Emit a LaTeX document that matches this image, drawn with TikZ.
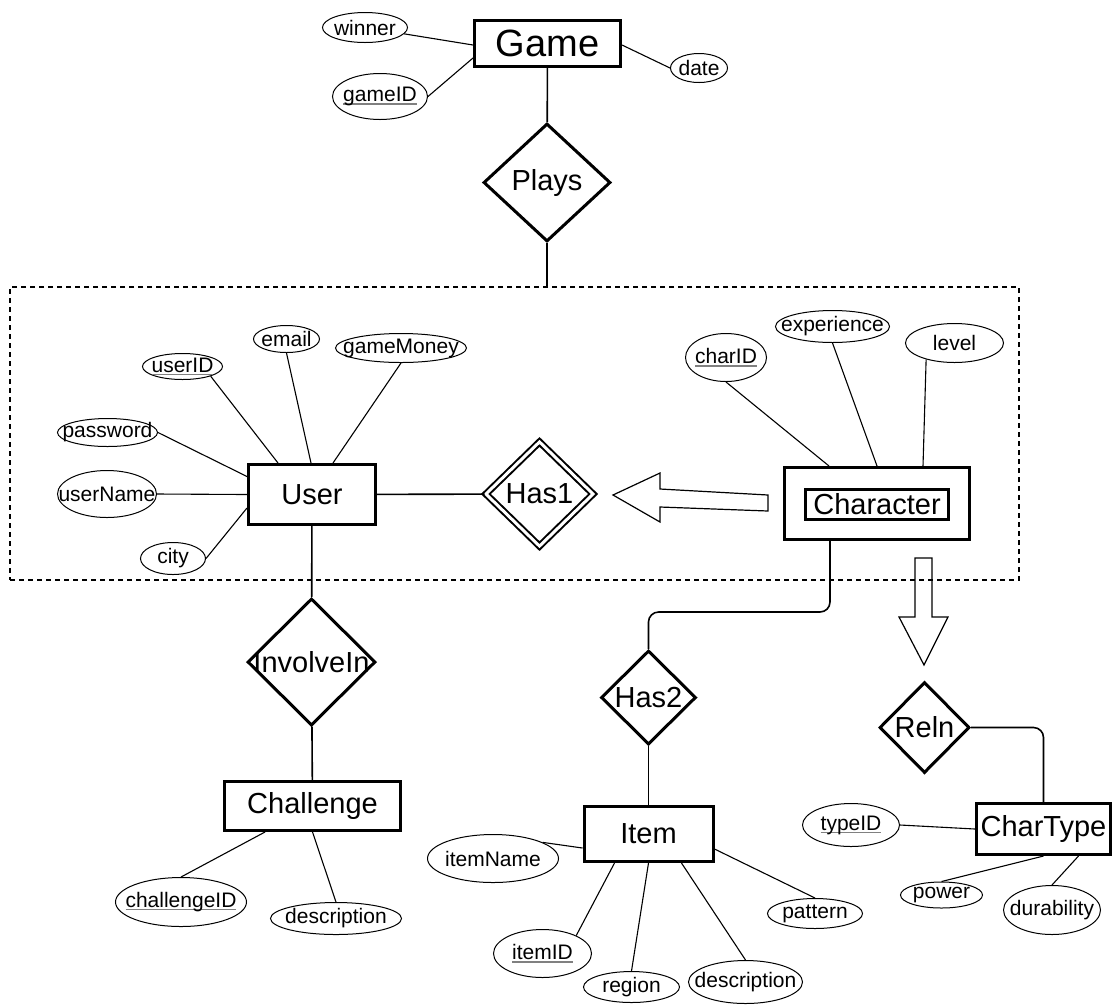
\documentclass[tikz,border=0pt]{standalone}
\usepackage{fontspec}
\setmainfont{Liberation Sans}
\usetikzlibrary{shapes.geometric,calc}
\newcommand{\keyattr}[1]{\setbox0\hbox{#1}\rlap{\color{gray}\rule[-3pt]{\wd0}{1.4pt}}\box0}
\begin{document}
\begin{tikzpicture}[x=1pt,y=-1pt,
 entity/.style={draw, rectangle, line width=3pt, inner sep=0pt, font=\fontsize{29}{33}\selectfont},
 rel/.style={draw, diamond, line width=3pt, inner sep=0pt},
 reltxt/.style={font=\fontsize{29}{33}\selectfont, inner sep=0pt},
 attr/.style={draw, ellipse, line width=1pt, inner sep=0pt},
 atxt/.style={font=\fontsize{21}{25}\selectfont, inner sep=0pt},
 conn/.style={line width=1.6pt},
 aconn/.style={line width=1.1pt},
 fat/.style={draw, line width=1.2pt, line join=miter}]
\useasboundingbox (0,0) rectangle (1113,1005);

% aggregation box
\node[draw, dashed, dash pattern=on 5pt off 4pt, line width=1.2pt, minimum width=1009, minimum height=293, inner sep=0pt] (agg) at (514.5,433.5) {};

% entities
\node[entity, font=\fontsize{38}{44}\selectfont, minimum width=146, minimum height=46] (game) at (547.5,43.5) {Game};
\node[entity, minimum width=127, minimum height=60] (user) at (312,494.5) {User};
\node[entity, minimum width=185, minimum height=72] (char) at (877,503.5) {};
\node[entity, minimum width=143, minimum height=30] (charin) at (877,504.5) {Character};
\node[entity, minimum width=176, minimum height=49] (chal) at (312.5,806) {Challenge};
\node[entity, minimum width=129, minimum height=55] (item) at (648.5,834) {Item};
\node[entity, minimum width=134, minimum height=51] (ct) at (1043.5,829) {CharType};

% relationships
\node[rel, minimum width=127, minimum height=118, label={[reltxt]center:Plays}] (plays) at (547,182.5) {};
\node[draw, diamond, inner sep=0pt, line width=2pt, double, double distance=3pt, minimum width=108, minimum height=105, label={[reltxt]center:Has1}] (has1) at (539.5,494) {};
\node[rel, minimum width=128, minimum height=127, label={[reltxt]center:InvolveIn}] (involve) at (311.5,662) {};
\node[rel, minimum width=95, minimum height=94, label={[reltxt]center:Has2}] (has2) at (648.5,697.5) {};
\node[rel, minimum width=90, minimum height=91, label={[reltxt]center:Reln}] (reln) at (924.5,727.5) {};

% attributes
\node[attr, minimum width=85, minimum height=30, label={[atxt]center:winner}] (winner) at (365,27.5) {};
\node[attr, minimum width=95, minimum height=46, label={[atxt]center:\keyattr{gameID}}] (gameid) at (380,96.5) {};
\node[attr, minimum width=57, minimum height=29, label={[atxt]center:date}] (date) at (699,68) {};
\node[attr, minimum width=80, minimum height=26, label={[atxt]center:\keyattr{userID}}] (userid) at (182.5,366.5) {};
\node[attr, minimum width=66, minimum height=27, label={[atxt]center:email}] (email) at (286.5,339) {};
\node[attr, minimum width=131, minimum height=29, label={[atxt]center:gameMoney}] (gamemoney) at (401,348) {};
\node[attr, minimum width=100, minimum height=28, label={[atxt]center:password}] (password) at (107.5,432.5) {};
\node[attr, minimum width=99, minimum height=47, label={[atxt]center:userName}] (username) at (107,494) {};
\node[attr, minimum width=65, minimum height=32, label={[atxt]center:city}] (city) at (173,558.5) {};
\node[attr, minimum width=81, minimum height=48, label={[atxt]center:\keyattr{charID}}] (charid) at (726,357.5) {};
\node[attr, minimum width=114, minimum height=32, label={[atxt]center:experience}] (exper) at (832.5,326.5) {};
\node[attr, minimum width=98, minimum height=39, label={[atxt]center:level}] (level) at (954.5,343) {};
\node[attr, minimum width=131, minimum height=49, label={[atxt]center:\keyattr{challengeID}}] (chalid) at (181,902) {};
\node[attr, minimum width=131, minimum height=32, label={[atxt]center:description}] (desc1) at (336,918.5) {};
\node[attr, minimum width=131, minimum height=48, label={[atxt]center:itemName}] (itemname) at (493,858.5) {};
\node[attr, minimum width=98, minimum height=48, label={[atxt]center:\keyattr{itemID}}] (itemid) at (542.5,953.5) {};
\node[attr, minimum width=96, minimum height=31, label={[atxt]center:region}] (region) at (631.5,987) {};
\node[attr, minimum width=114, minimum height=43, label={[atxt]center:description}] (desc2) at (745.5,982) {};
\node[attr, minimum width=95, minimum height=30, label={[atxt]center:pattern}] (pattern) at (815,913.5) {};
\node[attr, minimum width=97, minimum height=43, label={[atxt]center:\keyattr{typeID}}] (typeid) at (851,825) {};
\node[attr, minimum width=82, minimum height=26, label={[atxt]center:power}] (power) at (941.5,895) {};
\node[attr, minimum width=97, minimum height=49, label={[atxt]center:durability}] (durab) at (1052,910) {};

% Game connectors
\draw[aconn] (winner) -- ($(game.west)+(0,1.5)$);
\draw[aconn] (gameid.east) -- ($(game.west)+(0,14.5)$);
\draw[aconn] (date.west) -- ($(game.east)+(0,1.5)$);
\draw[conn] (game) -- (plays);
\draw[conn] (plays) -- (plays.south |- agg.north);

% User connectors
\draw[aconn] (userid.341) -- ($(user.north west)+(31,0)$);
\draw[aconn] (email.south) -- ($(user.north)+(-1,0)$);
\draw[aconn] (gamemoney.south) -- ($(user.north)+(21,0)$);
\draw[aconn] (password.east) -- ($(user.west)+(0,-18)$);
\draw[aconn] (username.east) -- (user.west);
\draw[aconn] (city.east) -- ($(user.west)+(0,13.5)$);
\draw[conn] (user) -- (has1);
\draw[conn] (user) -- (involve);
\draw[conn] (involve) -- (chal);
\draw[aconn] (chalid.north) -- ($(chal.south west)+(42,0)$);
\draw[aconn] (desc1.north) -- (chal.south);

% Character connectors
\draw[aconn] (charid.south) -- ($(char.north west)+(46,0)$);
\draw[aconn] (exper.south) -- ($(char.north west)+(94,0)$);
\draw[aconn] (level.210) -- ($(char.north west)+(140,0)$);
\draw[conn, rounded corners=10pt] ($(char.south west)+(47,0)$) -- ++(0,71) -| (has2.north);
\draw[conn] (has2) -- (item);
\draw[conn, rounded corners=10pt] (reln.east) -| (ct.north);

% fat arrows
\draw[fat] (768,495) -- (660,489) -- (660,473) -- (613,495) -- (660,522) -- (660,507) -- (768,511) -- cycle;
\draw[fat] (915,558) -- (932,558) -- (932,617) -- (948,617) -- (924,665) -- (899,617) -- (915,617) -- cycle;

% Item connectors
\draw[aconn] (itemname.18) -- ($(item.west)+(0,14)$);
\draw[aconn] (itemid.28) -- ($(item.south west)+(32,0)$);
\draw[aconn] (region.north) -- (item.south);
\draw[aconn] (desc2.north) -- ($(item.south west)+(99,0)$);
\draw[aconn] (pattern.north) -- ($(item.east)+(0,15)$);

% CharType connectors
\draw[aconn] (typeid.east) -- (ct.west);
\draw[aconn] (power.north) -- (ct.south);
\draw[aconn] (durab.north) -- ($(ct.south)+(35,0)$);
\end{tikzpicture}
\end{document}
